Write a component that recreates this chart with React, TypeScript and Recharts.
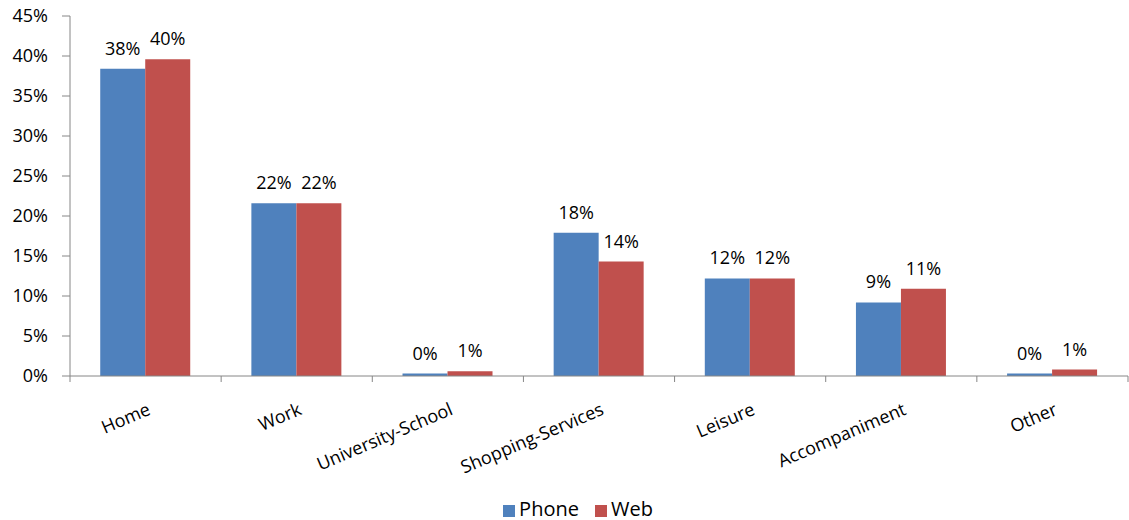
import { BarChart, Bar, XAxis, YAxis, Legend, LabelList } from 'recharts'

const categories = ['Home', 'Work', 'University-School', 'Shopping-Services', 'Leisure', 'Accompaniment', 'Other']
const phone = [38.4, 21.6, 0.3, 17.9, 12.2, 9.2, 0.3]
const web = [39.6, 21.6, 0.6, 14.3, 12.2, 10.9, 0.8]
const yTicks = [0, 5, 10, 15, 20, 25, 30, 35, 40, 45]

const data = categories.map((name, i) => ({ name, phone: phone[i], web: web[i] }))

const FONT = '"Open Sans", sans-serif'
const AXIS = '#868686'
const W = 1129
const H = 520
const LEFT = 70
const RIGHT = 1
const STEP = (W - LEFT - RIGHT) / categories.length

const pct = (v: any) => `${Math.round(Number(v))}%`

// Excel style: tick marks between categories, slanted labels
function CategoryTick(props: any) {
  const { x, y, payload, index } = props
  const last = index === categories.length - 1
  return (
    <g>
      <line x1={x - STEP / 2} x2={x - STEP / 2} y1={y} y2={y + 6} stroke={AXIS} />
      {last && <line x1={x + STEP / 2} x2={x + STEP / 2} y1={y} y2={y + 6} stroke={AXIS} />}
      <g transform={`translate(${x + 6},${y + 38})`}>
        <text x={0} y={0} textAnchor="end" transform="rotate(-23)" fill="#000" fontSize={18} fontFamily={FONT}>
          {payload.value}
        </text>
      </g>
    </g>
  )
}

export default function App() {
  return (
    <div style={{ position: 'absolute', left: 0, top: 0, width: W, height: H, background: '#fff' }}>
      <BarChart
        width={W}
        height={H}
        data={data}
        margin={{ top: 16, right: RIGHT, left: 0, bottom: 0 }}
        barCategoryGap="20%"
        barGap={0}
      >
        <XAxis
          dataKey="name"
          stroke={AXIS}
          tickLine={false}
          tickSize={0}
          tickMargin={0}
          interval={0}
          height={123}
          tick={<CategoryTick />}
        />
        <YAxis
          domain={[0, 45]}
          ticks={yTicks}
          tickFormatter={(v: number) => `${v}%`}
          width={LEFT}
          tickSize={8}
          tickMargin={14}
          stroke={AXIS}
          tick={{ fill: '#000', fontSize: 18, fontFamily: FONT }}
        />
        <Legend
          verticalAlign="bottom"
          height={21}
          iconType="square"
          iconSize={12}
          wrapperStyle={{ fontFamily: FONT, fontSize: 20, lineHeight: '20px', paddingLeft: 22 }}
          formatter={(value: string) => <span style={{ color: '#000', marginRight: 6 }}>{value}</span>}
        />
        <Bar dataKey="phone" name="Phone" fill="#4F81BD" isAnimationActive={false}>
          <LabelList dataKey="phone" position="top" offset={14} formatter={pct} fill="#000" fontSize={18} fontFamily={FONT} />
        </Bar>
        <Bar dataKey="web" name="Web" fill="#C0504D" isAnimationActive={false}>
          <LabelList dataKey="web" position="top" offset={14} formatter={pct} fill="#000" fontSize={18} fontFamily={FONT} />
        </Bar>
      </BarChart>
    </div>
  )
}
